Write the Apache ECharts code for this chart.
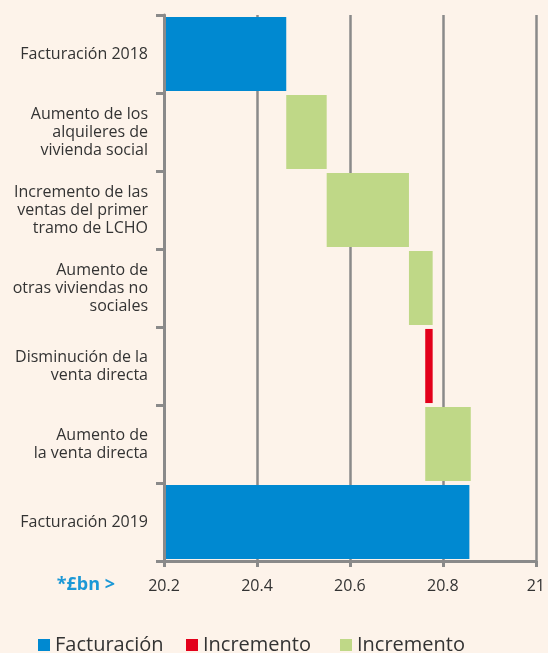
<!DOCTYPE html>
<html>
<head>
<meta charset="utf-8">
<script src="https://cdn.jsdelivr.net/npm/echarts@6/dist/echarts.min.js"></script>
<style>
  html, body { margin: 0; padding: 0; background: #fdf3ea; }
  #chart { width: 548px; height: 653px; }
</style>
</head>
<body>
<div id="chart"></div>
<script>
// categorías (de arriba abajo)
var categories = [
    'Facturación 2018',
    'Aumento de los\nalquileres de\nvivienda social',
    'Incremento de las\nventas del primer\ntramo de LCHO',
    'Aumento de\notras viviendas no\nsociales',
    'Disminución de la\nventa directa',
    'Aumento de\nla venta directa',
    'Facturación 2019'
];
// *£bn
var totals = [20.463, 20.857];             // facturación 2018, 2019
var changes = [0.087, 0.177, 0.051, -0.016, 0.098];
var xTicks = [20.2, 20.4, 20.6, 20.8, 21];

var baseData = [0], blueData = [totals[0]], redData = ['-'], greenData = ['-'];
var level = totals[0];
changes.forEach(function (c) {
    if (c >= 0) {
        baseData.push(level);
        greenData.push(c);
        redData.push('-');
        level += c;
    } else {
        level += c;
        baseData.push(level);
        redData.push(-c);
        greenData.push('-');
    }
    blueData.push('-');
});
baseData.push(0);
blueData.push(totals[1]);
redData.push('-');
greenData.push('-');

var font = '"Open Sans", sans-serif';
var grey = '#8a8a8a';
var myChart = echarts.init(document.getElementById('chart'));
var legendBase = {
    top: 635,
    padding: 0,
    icon: 'rect',
    itemWidth: 12,
    itemHeight: 12,
    itemGap: 7,
    selectedMode: false,
    textStyle: { fontFamily: font, fontSize: 20, color: '#333' }
};
var option = {
    backgroundColor: '#fdf3ea',
    animation: false,
    grid: { left: 164, right: 8, top: 15, bottom: 92 },
    legend: [
        Object.assign({}, legendBase, { left: 38, data: ['Facturación'] }),
        Object.assign({}, legendBase, { left: 186, data: ['Disminución'], formatter: function () { return 'Incremento'; } }),
        Object.assign({}, legendBase, { left: 340, data: ['Incremento'] })
    ],
    graphic: [{
        type: 'text',
        right: 548 - 115,
        top: 576,
        style: { text: '*£bn >', fill: '#1b98d6', font: 'bold 18px ' + font }
    }],
    xAxis: {
        type: 'value',
        min: xTicks[0],
        max: xTicks[xTicks.length - 1],
        interval: 0.2,
        axisLine: { show: true, lineStyle: { color: grey, width: 3 } },
        axisTick: { show: true, length: 6, lineStyle: { color: grey, width: 3 } },
        splitLine: { show: true, lineStyle: { color: grey, width: 2.5 } },
        axisLabel: {
            margin: 17,
            fontFamily: font, fontSize: 16, color: '#333',
            formatter: function (v) { return String(+v.toFixed(1)); }
        }
    },
    yAxis: {
        type: 'category',
        inverse: true,
        z: 3,
        data: categories,
        axisLine: { show: true, lineStyle: { color: grey, width: 3 } },
        axisTick: { show: true, length: 8, lineStyle: { color: grey, width: 3 } },
        axisLabel: {
            margin: 16,
            fontFamily: font, fontSize: 16, lineHeight: 18, color: '#333', align: 'right'
        }
    },
    series: [
        { name: 'base', type: 'bar', stack: 'w', barCategoryGap: '5%', silent: true,
          itemStyle: { color: 'rgba(0,0,0,0)' }, data: baseData },
        { name: 'Facturación', type: 'bar', stack: 'w', itemStyle: { color: '#0089d1' }, data: blueData },
        { name: 'Disminución', type: 'bar', stack: 'w', itemStyle: { color: '#e3001b' }, data: redData },
        { name: 'Incremento', type: 'bar', stack: 'w', itemStyle: { color: '#bfd887' }, data: greenData }
    ]
};
myChart.setOption(option);
window.addEventListener('resize', function () {
    myChart.resize();
});
</script>
</body>
</html>
